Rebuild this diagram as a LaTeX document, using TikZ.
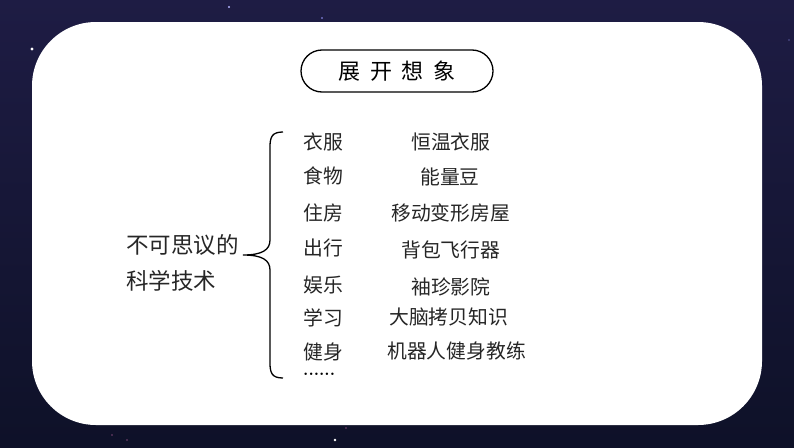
\documentclass[tikz,border=0pt]{standalone}
\usepackage{fontspec}
\newfontfamily\cjk{Noto Sans CJK SC}
\begin{document}
\begin{tikzpicture}[x=1pt,y=-1pt,
  txt/.style={font=\cjk\fontsize{19.8}{22}\selectfont, inner sep=0pt, anchor=west, text=black!85},
  bigtxt/.style={font=\cjk\fontsize{22.5}{24}\selectfont, inner sep=0pt, anchor=west, text=black!85},
  stardot/.style={draw=none}]
\definecolor{bgtop}{HTML}{1E1C44}
\definecolor{bgbot}{HTML}{0E1128}
\useasboundingbox (0,0) rectangle (794,447);
\shade[top color=bgtop, bottom color=bgbot] (0,0) rectangle (794,447);
% stars
\fill[stardot, white] (32,49) circle (1.6);
\fill[stardot, white!70!blue] (229,7) circle (1.2);
\fill[stardot, white!60!blue] (322,18) circle (0.8);
\fill[stardot, white] (335,440) circle (1.3);
\fill[stardot, white!50!magenta] (112,435) circle (0.7);
\fill[stardot, white!50!magenta] (127,440) circle (0.6);
\fill[stardot, white!50!magenta] (346,428) circle (0.6);
\fill[stardot, white!60!blue] (789,40) circle (0.7);
% card
\fill[white, rounded corners=64pt] (32,22) rectangle (762,425);
% title
\node[draw=black, line width=1.3pt, rounded corners=21pt, minimum width=192pt, minimum height=42pt,
  font=\cjk\fontsize{22}{24}\selectfont, inner sep=0pt] (title) at (397,71) {展\hspace{0.45em}开\hspace{0.45em}想\hspace{0.45em}象};
% left label
\node[bigtxt] (l1) at (126,245) {不可思议的};
\node[bigtxt] (l2) at (126,281) {科学技术};
% brace
\coordinate (btop) at (283,132);
\coordinate (btip) at (243,255);
\coordinate (bbot) at (283,378);
\draw[line width=1.3pt] (btop) .. controls (272,132) and (270,137) .. (270,147) -- (270,240)
  .. controls (270,250) and (262,255) .. (btip)
  .. controls (262,255) and (270,260) .. (270,270) -- (270,363)
  .. controls (270,373) and (272,378) .. (bbot);
% categories
\node[txt] (c1) at (303,142) {衣服};
\node[txt] (c2) at (303,176) {食物};
\node[txt] (c3) at (303,213) {住房};
\node[txt] (c4) at (303,248) {出行};
\node[txt] (c5) at (303,285) {娱乐};
\node[txt] (c6) at (303,318) {学习};
\node[txt] (c7) at (303,352) {健身};
\node[inner sep=0pt, anchor=west, font=\bfseries\fontsize{17}{17}\selectfont] (c8) at (303,374) {......};
% items
\node[txt] (i1) at (411,142) {恒温衣服};
\node[txt] (i2) at (420,177) {能量豆};
\node[txt] (i3) at (391,213) {移动变形房屋};
\node[txt] (i4) at (401,250) {背包飞行器};
\node[txt] (i5) at (411,287) {袖珍影院};
\node[txt] (i6) at (389,317) {大脑拷贝知识};
\node[txt] (i7) at (387,351) {机器人健身教练};
\end{tikzpicture}
\end{document}
